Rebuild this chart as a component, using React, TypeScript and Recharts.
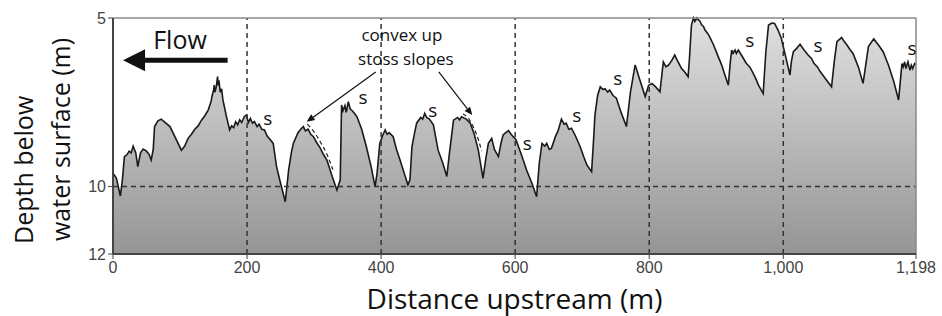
import React from "react";
import {
  ComposedChart,
  Area,
  Line,
  Scatter,
  XAxis,
  YAxis,
  ReferenceLine,
  ReferenceDot,
} from "recharts";

// river-bed profile: [distance upstream (m), depth below water surface (m)]
const bed: [number, number][] = [
  [0, 9.6], [5, 9.75], [11, 10.28], [14, 9.8], [17, 9.11], [21, 9.05], [24, 8.95], [27, 9.0], [30, 8.8], [34, 9.0],
  [37, 9.41], [41, 9.0], [45, 8.89], [50, 8.95], [54, 9.05], [57, 9.21], [60, 8.9], [62, 8.22], [67, 8.05], [72, 8.0],
  [78, 8.1], [85, 8.22], [93, 8.55], [102, 8.92], [107, 8.8], [112, 8.57], [117, 8.45], [122, 8.3], [127, 8.2], [132, 8.03],
  [137, 7.9], [142, 7.73], [146, 7.5], [148, 7.3], [150, 7.15], [151, 6.99], [152, 7.2], [154, 7.05], [156, 6.74], [157, 7.0],
  [158, 6.85], [160, 7.2], [162, 7.1], [164, 7.43], [169, 7.9], [174, 8.32], [177, 8.2], [180, 8.25], [183, 8.08], [186, 8.17],
  [189, 8.02], [192, 8.1], [196, 7.92], [199, 7.88], [202, 8.1], [205, 7.98], [208, 8.12], [211, 8.07], [215, 8.22], [218, 8.15],
  [222, 8.3], [226, 8.32], [230, 8.5], [234, 8.6], [239, 8.72], [244, 9.41], [250, 9.9], [257, 10.45], [262, 9.51], [266, 9.0],
  [269, 8.72], [276, 8.4], [281, 8.28], [284, 8.22], [287, 8.35], [291, 8.3], [295, 8.45], [299, 8.52], [304, 8.7], [309, 8.85],
  [314, 9.05], [319, 9.21], [323, 9.45], [327, 9.7], [334, 10.1], [339, 9.8], [341, 7.58], [343, 7.75], [346, 7.6], [348, 7.8],
  [351, 7.48], [354, 7.7], [357, 7.75], [361, 7.85], [364, 7.93], [371, 8.3], [378, 8.82], [385, 9.4], [391, 10.0], [394, 9.6],
  [398, 8.72], [402, 8.5], [406, 8.32], [409, 8.45], [412, 8.4], [418, 8.52], [423, 8.9], [428, 9.2], [436, 9.7], [440, 9.95],
  [443, 9.8], [446, 8.82], [450, 8.4], [453, 8.12], [459, 7.95], [462, 8.0], [465, 7.83], [468, 7.95], [472, 8.0], [478, 8.17],
  [485, 8.92], [492, 9.3], [498, 9.7], [502, 9.0], [508, 8.03], [514, 7.95], [517, 8.02], [520, 7.93], [527, 8.0], [533, 8.12],
  [539, 8.45], [545, 8.92], [552, 9.76], [556, 9.2], [560, 8.72], [565, 8.57], [569, 8.9], [575, 9.11], [579, 8.7], [582, 8.47],
  [586, 8.4], [590, 8.34], [594, 8.45], [597, 8.52], [601, 8.6], [605, 8.82], [611, 9.15], [617, 9.51], [625, 9.9], [632, 10.3],
  [636, 9.3], [640, 8.72], [644, 8.8], [647, 8.72], [651, 8.9], [654, 8.87], [660, 8.52], [664, 8.35], [669, 8.0], [673, 8.15],
  [676, 8.12], [680, 8.3], [684, 8.27], [690, 8.5], [697, 8.82], [702, 9.1], [707, 9.36], [714, 9.56], [717, 8.6], [719, 7.88],
  [723, 7.3], [727, 7.04], [731, 7.12], [734, 7.1], [738, 7.2], [741, 7.14], [746, 7.3], [751, 7.38], [758, 7.8], [766, 8.22],
  [772, 7.2], [779, 6.39], [786, 6.84], [794, 7.33], [799, 7.0], [804, 6.94], [810, 7.05], [816, 7.19], [821, 6.3], [825, 6.45],
  [829, 6.39], [834, 6.25], [838, 6.1], [843, 6.3], [848, 6.49], [853, 6.6], [858, 6.74], [860, 6.2], [863, 5.21], [866, 5.0],
  [868, 5.1], [871, 5.0], [873, 5.05], [876, 5.1], [878, 5.2], [881, 5.25], [883, 5.35], [887, 5.45], [890, 5.55], [896, 5.8],
  [902, 6.1], [908, 6.39], [913, 6.7], [918, 6.99], [921, 6.3], [923, 5.95], [925, 6.05], [928, 5.95], [930, 6.05], [933, 5.95],
  [939, 6.15], [945, 6.35], [950, 6.45], [954, 6.6], [959, 6.8], [963, 6.99], [970, 7.24], [974, 6.0], [978, 5.21], [983, 5.15],
  [987, 5.16], [992, 5.35], [997, 5.6], [1003, 6.1], [1010, 6.69], [1012, 6.3], [1015, 6.0], [1020, 5.9], [1025, 5.78], [1031, 5.95],
  [1037, 6.1], [1042, 6.2], [1046, 6.35], [1051, 6.45], [1055, 6.59], [1063, 6.8], [1072, 7.04], [1076, 6.3], [1080, 5.7], [1087, 5.58],
  [1091, 5.7], [1095, 5.8], [1100, 5.95], [1104, 6.05], [1108, 6.25], [1112, 6.45], [1119, 6.94], [1123, 6.4], [1127, 5.85], [1135, 5.62],
  [1142, 5.8], [1149, 6.0], [1153, 6.2], [1157, 6.4], [1165, 6.9], [1172, 7.43], [1175, 6.8], [1177, 6.35], [1179, 6.45], [1181, 6.3],
  [1183, 6.5], [1186, 6.3], [1189, 6.55], [1191, 6.4], [1193, 6.5], [1196, 6.35], [1198, 6.38],
];

// dashed "convex up" stoss slope guides
const convexA = [
  { d: 290, depth: 8.15 },
  { d: 300, depth: 8.38 },
  { d: 310, depth: 8.7 },
  { d: 320, depth: 9.08 },
  { d: 328, depth: 9.5 },
];
const convexB = [
  { d: 522, depth: 7.85 },
  { d: 530, depth: 7.97 },
  { d: 538, depth: 8.25 },
  { d: 545, depth: 8.6 },
  { d: 550, depth: 8.95 },
];

// "s" marks
const sMarks = [
  { d: 231, depth: 7.97 },
  { d: 373, depth: 7.34 },
  { d: 477, depth: 7.73 },
  { d: 618, depth: 8.71 },
  { d: 692, depth: 7.88 },
  { d: 753, depth: 6.78 },
  { d: 950, depth: 5.65 },
  { d: 1052, depth: 5.8 },
  { d: 1192, depth: 5.89 },
];

const xTicks = [0, 200, 400, 600, 800, 1000, 1198];
const yTicks = [5, 10, 12];
const gridX = [200, 400, 600, 800, 1000];
const convexLabel = ["convex up", "stoss slopes"];

const profile = bed.map(([d, depth]) => ({ d, depth }));

const FONT = "'Open Sans', 'Noto Sans', sans-serif";
const NARROW = "'Liberation Sans Narrow', 'Liberation Sans', sans-serif";

function arrowShape(head: number, half: number, width: number) {
  return (props: any) => {
    const { x1, y1, x2, y2 } = props;
    const dx = x2 - x1;
    const dy = y2 - y1;
    const len = Math.sqrt(dx * dx + dy * dy) || 1;
    const ux = dx / len;
    const uy = dy / len;
    const bx = x2 - ux * head;
    const by = y2 - uy * head;
    const px = -uy * half;
    const py = ux * half;
    return (
      <g>
        <line x1={x1} y1={y1} x2={bx} y2={by} stroke="#111" strokeWidth={width} />
        <polygon
          points={`${x2},${y2} ${bx + px},${by + py} ${bx - px},${by - py}`}
          fill="#111"
        />
      </g>
    );
  };
}

function textShape(text: string, size: number) {
  return (props: any) => (
    <text
      x={props.cx}
      y={props.cy}
      textAnchor="middle"
      dominantBaseline="central"
      fontFamily={FONT}
      fontSize={size}
      fill="#111"
    >
      {text}
    </text>
  );
}

// two-line note, one text element
function multiShape(lines: string[], size: number, lineHeight: number) {
  return (props: any) => (
    <text
      x={props.cx}
      y={props.cy}
      textAnchor="middle"
      fontFamily={FONT}
      fontSize={size}
      fill="#111"
    >
      {lines.map((l, i) => (
        <tspan key={i} x={props.cx + i * 4} dy={i === 0 ? 0 : lineHeight}>
          {l}
        </tspan>
      ))}
    </text>
  );
}

const YTitle = (props: any) => {
  const vb = props.viewBox || { x: 0, y: 18, width: 113, height: 236 };
  const bottom = vb.y + vb.height - 10;
  return (
    <g fontFamily={FONT} fontSize={25} fill="#111">
      <text x={33} y={bottom} textAnchor="start" transform={`rotate(-90, 33, ${bottom})`}>
        Depth below
      </text>
      <text x={70} y={bottom - 3} textAnchor="start" transform={`rotate(-90, 70, ${bottom - 3})`}>
        water surface (m)
      </text>
    </g>
  );
};

export default function App() {
  return (
    <div style={{ position: "absolute", left: 0, top: 0, width: 942, height: 316, background: "#fff" }}>
      <ComposedChart
        width={942}
        height={316}
        data={profile}
        margin={{ top: 18, right: 26, bottom: 0, left: 0 }}
      >
        <defs>
          <linearGradient id="bedFill" x1="0" y1="0" x2="0" y2="1">
            <stop offset="0%" stopColor="#e0e0e0" />
            <stop offset="100%" stopColor="#959595" />
          </linearGradient>
        </defs>
        <XAxis
          dataKey="d"
          type="number"
          domain={[0, 1198]}
          ticks={xTicks}
          interval={0}
          height={62}
          tickSize={5}
          tickMargin={3}
          stroke="#444"
          axisLine={{ stroke: "#444", strokeWidth: 2 }}
          tick={{ fontFamily: NARROW, fontSize: 16, fill: "#444" }}
          tickFormatter={(v: number) => v.toLocaleString("en-US")}
          label={{
            value: "Distance upstream (m)",
            position: "insideBottom",
            offset: 7,
            style: { fontFamily: FONT, fontSize: 28, fill: "#111" },
          }}
        />
        <YAxis
          type="number"
          domain={[5, 12]}
          reversed
          ticks={yTicks}
          interval={0}
          width={113}
          tickSize={5}
          tickMargin={2}
          stroke="#444"
          axisLine={{ stroke: "#444", strokeWidth: 2 }}
          tick={{ fontFamily: NARROW, fontSize: 16, fill: "#444" }}
          label={<YTitle />}
        />
        <Area
          dataKey="depth"
          type="linear"
          baseValue={12}
          stroke="#1a1a1a"
          strokeWidth={1.6}
          fill="url(#bedFill)"
          fillOpacity={1}
          isAnimationActive={false}
          dot={false}
          activeDot={false}
        />
        <Line
          data={convexA}
          dataKey="depth"
          type="monotone"
          stroke="#222"
          strokeWidth={1.2}
          strokeDasharray="4 3"
          dot={false}
          isAnimationActive={false}
        />
        <Line
          data={convexB}
          dataKey="depth"
          type="monotone"
          stroke="#222"
          strokeWidth={1.2}
          strokeDasharray="4 3"
          dot={false}
          isAnimationActive={false}
        />
        {gridX.map((x) => (
          <ReferenceLine key={x} x={x} stroke="#333" strokeWidth={1.5} strokeDasharray="5 4" />
        ))}
        <ReferenceLine y={10} stroke="#333" strokeWidth={1.5} strokeDasharray="5 4" />
        <ReferenceLine y={5} stroke="#888" strokeWidth={1.5} />
        <ReferenceLine x={1198} stroke="#888" strokeWidth={1.5} />
        <Scatter
          data={sMarks}
          dataKey="depth"
          isAnimationActive={false}
          shape={textShape("s", 19)}
        />
        <ReferenceLine
          segment={[{ x: 171, y: 6.25 }, { x: 15, y: 6.25 }]}
          shape={arrowShape(22, 11, 5)}
        />
        <ReferenceLine
          segment={[{ x: 392, y: 6.6 }, { x: 289, y: 8.08 }]}
          shape={arrowShape(8, 3.5, 1.2)}
        />
        <ReferenceLine
          segment={[{ x: 486, y: 6.6 }, { x: 536, y: 7.88 }]}
          shape={arrowShape(8, 3.5, 1.2)}
        />
        <ReferenceDot x={100} y={5.62} r={0} shape={textShape("Flow", 25)} />
        <ReferenceDot x={431} y={5.68} r={0} shape={multiShape(convexLabel, 17, 24)} />
      </ComposedChart>
    </div>
  );
}
